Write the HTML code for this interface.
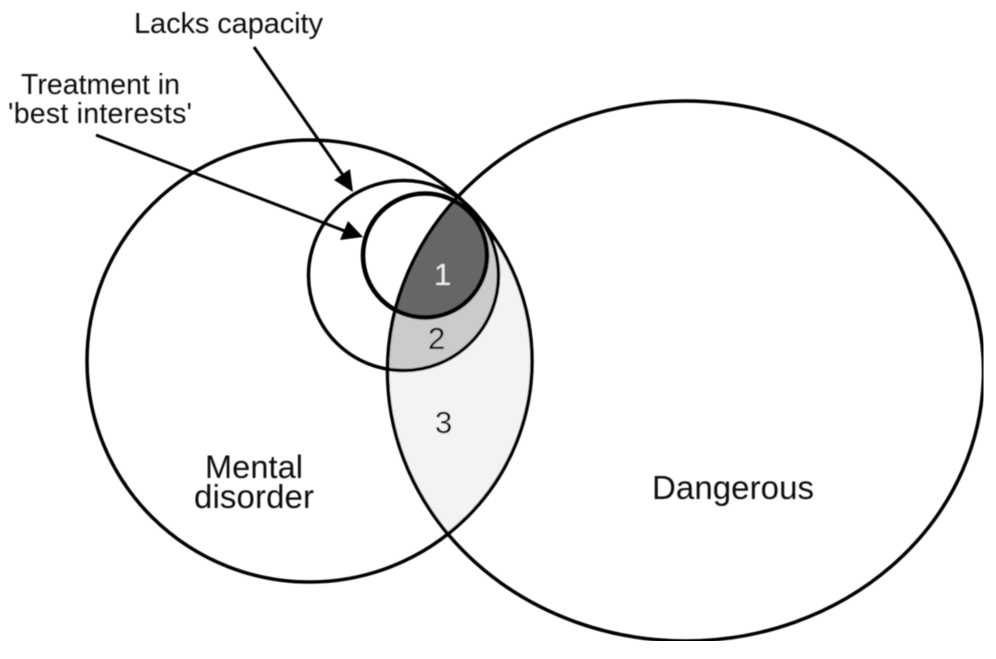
<!DOCTYPE html>
<html>
<head>
<meta charset="utf-8">
<style>
html,body{margin:0;padding:0;background:#fff;}
svg{display:block;}
text{font-family:"Liberation Sans",Arial,sans-serif;fill:#111;}
</style>
</head>
<body>
<svg width="996" height="659" viewBox="0 0 996 659" xmlns="http://www.w3.org/2000/svg">
<defs>
<clipPath id="cd"><ellipse cx="685.5" cy="371" rx="298" ry="270"/></clipPath>
<filter id="soft" x="0" y="0" width="100%" height="100%"><feGaussianBlur stdDeviation="0.4"/></filter>
</defs>
<rect width="996" height="659" fill="#fff"/>
<g filter="url(#soft)">
<g clip-path="url(#cd)">
<ellipse cx="309.5" cy="361" rx="222.5" ry="221" fill="#f3f3f3"/>
<circle cx="403.5" cy="275.5" r="95.5" fill="#cbcbcb"/>
<circle cx="425" cy="255.5" r="62" fill="#666"/>
</g>
<g fill="none" stroke="#000" stroke-width="3.5">
<ellipse cx="309.5" cy="361" rx="222.5" ry="221"/>
<ellipse cx="685.5" cy="371" rx="298" ry="270"/>
<circle cx="403.5" cy="275.5" r="95"/>
</g>
<circle cx="425" cy="255.5" r="62" fill="none" stroke="#000" stroke-width="4.6"/>
<g stroke="#000" stroke-width="3" fill="none">
<line x1="254" y1="47" x2="345" y2="178"/>
<line x1="96" y1="135" x2="350" y2="233"/>
</g>
<polygon points="353,192 334,180 350,169" fill="#000"/>
<polygon points="363,237 340,240 348,221" fill="#000"/>
<text x="134" y="33" font-size="29" textLength="189" lengthAdjust="spacing">Lacks capacity</text>
<text x="21" y="94" font-size="28.5" textLength="159" lengthAdjust="spacing">Treatment in</text>
<text x="8" y="123" font-size="28.5" textLength="184" lengthAdjust="spacing">'best interests'</text>
<text x="205" y="478" font-size="32.5" textLength="98" lengthAdjust="spacing">Mental</text>
<text x="194" y="508" font-size="33" textLength="120" lengthAdjust="spacing">disorder</text>
<text x="652" y="499" font-size="33" textLength="162" lengthAdjust="spacing">Dangerous</text>
<text x="434" y="285" font-size="31" style="fill:#eee">1</text>
<text x="428" y="349" font-size="31">2</text>
<text x="435" y="433" font-size="31">3</text>
</g>
</svg>
</body>
</html>
